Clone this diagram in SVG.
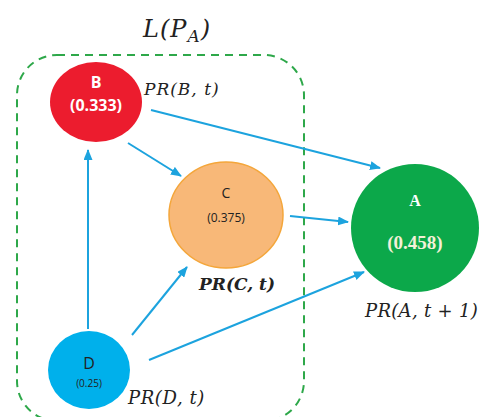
<svg xmlns="http://www.w3.org/2000/svg" width="481" height="417" viewBox="0 0 481 417">
<defs>
<marker id="ah" markerWidth="11" markerHeight="9" refX="10" refY="4.5" orient="auto" markerUnits="userSpaceOnUse">
<path d="M0,0 L11,4.5 L0,9 Z" fill="#1CA3DE"/>
</marker>
<style>
.edge{stroke:#1CA3DE;stroke-width:2;fill:none;marker-end:url(#ah)}
.math{font-family:"DejaVu Serif","Liberation Serif",serif;font-style:italic;fill:#222}
.sans{font-family:"Open Sans","Liberation Sans",sans-serif;text-anchor:middle}
.serif{font-family:"Liberation Serif",serif;text-anchor:middle;font-weight:bold}
</style>
</defs>
<rect width="481" height="417" fill="#fff"/>
<g id="group-LPA">
<rect x="17" y="55" width="287" height="366" rx="40" fill="none" stroke="#2EA84A" stroke-width="2" stroke-dasharray="8,6"/>
<text class="math" x="143" y="37" font-size="24" letter-spacing="1">L(P<tspan font-size="17" dy="5">A</tspan><tspan dy="-5">)</tspan></text>
</g>
<g id="connectors">
<line class="edge" x1="88" y1="329" x2="88" y2="150"/>
<line class="edge" x1="128" y1="143" x2="181" y2="176"/>
<line class="edge" x1="151" y1="110" x2="380" y2="168"/>
<line class="edge" x1="290" y1="216" x2="348" y2="222"/>
<line class="edge" x1="132" y1="335" x2="187" y2="267"/>
<line class="edge" x1="149" y1="360" x2="364" y2="272"/>
</g>
<g id="node-B">
<ellipse cx="96" cy="102" rx="46" ry="40" fill="#EC1C2E"/>
<text class="sans" x="96" y="88" font-size="16" font-weight="bold" fill="#fff">B</text>
<text class="sans" x="96" y="111" font-size="16" font-weight="bold" fill="#fff">(0.333)</text>
<text class="math" x="144" y="95" font-size="17" letter-spacing="1" fill="#444">PR(B, t)</text>
</g>
<g id="node-C">
<ellipse cx="226" cy="215" rx="57" ry="53" fill="#F8B878" stroke="#F4A63A" stroke-width="1.5"/>
<text class="sans" x="226" y="198" font-size="14" fill="#222">C</text>
<text class="sans" x="226" y="222" font-size="12" fill="#222">(0.375)</text>
<text class="math" x="199" y="290" font-size="17" font-weight="bold" fill="#111">PR(C, t)</text>
</g>
<g id="node-D">
<ellipse cx="89" cy="370" rx="41" ry="39" fill="#00B0EB"/>
<text class="sans" x="89" y="369" font-size="16" fill="#222">D</text>
<text class="sans" x="89" y="387" font-size="10" fill="#222">(0.25)</text>
<text class="math" x="128" y="404" font-size="18" letter-spacing="0.6" fill="#111">PR(D, t)</text>
</g>
<g id="node-A">
<circle cx="415" cy="228" r="64" fill="#0CA84A"/>
<text class="serif" x="415" y="206" font-size="16" fill="#fff">A</text>
<text class="serif" x="415" y="249" font-size="19" fill="#F4F0D8">(0.458)</text>
<text class="math" x="365" y="317" font-size="18" letter-spacing="0.3" fill="#111">PR(A, t + 1)</text>
</g>
</svg>
